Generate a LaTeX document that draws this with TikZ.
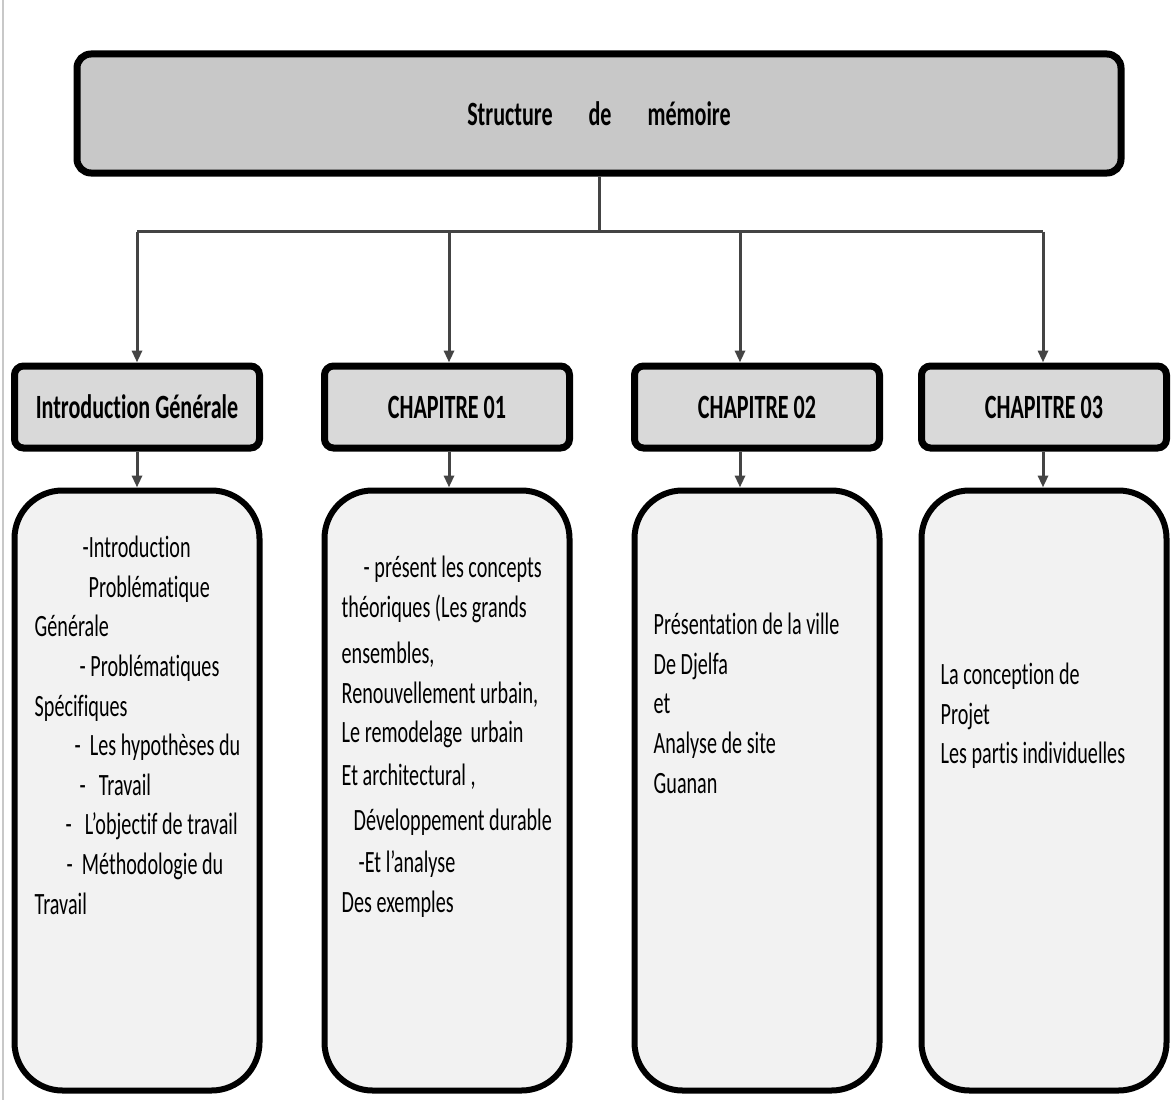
\documentclass[tikz,border=0pt]{standalone}
\usepackage{fontspec}
\setmainfont{Carlito}
\newfontfamily\diagfont[FakeStretch=0.65,Ligatures=NoCommon]{Carlito}
\usetikzlibrary{arrows.meta,positioning,calc}
\definecolor{titlegray}{HTML}{C8C8C8}
\definecolor{chapgray}{HTML}{D9D9D9}
\definecolor{listgray}{HTML}{F2F2F2}
\definecolor{linkgray}{HTML}{444444}
\definecolor{edgegray}{HTML}{C8C8C8}

\begin{document}
\begin{tikzpicture}[x=1pt, y=1pt,
  font=\diagfont, >={Triangle[width=10pt,length=12pt]},
  box/.style={draw=black, line width=7pt, inner sep=0pt},
  titlebox/.style={box, fill=titlegray, rounded corners=14pt, minimum width=1044pt, minimum height=119pt, font=\diagfont\bfseries\fontsize{34}{40}\selectfont},
  chapbox/.style={box, fill=chapgray, rounded corners=9pt, minimum width=245pt, minimum height=82pt, font=\diagfont\bfseries\fontsize{34}{40}\selectfont},
  listbox/.style={box, line width=6pt, fill=listgray, rounded corners=48pt, minimum width=245pt, minimum height=600pt},
  listtext/.style={anchor=north west, align=left, inner sep=0pt, font=\diagfont\fontsize{31}{39.6}\selectfont},
  link/.style={draw=linkgray, line width=3pt}]
  \useasboundingbox (0,0) rectangle (1175,-1113);
  \draw[edgegray, line width=1.5pt] (3,0) -- (3,-1100);
  % title and chapters
  \node[titlebox] (title) at (599,-113.5) {Structure\hspace{36pt}de\hspace{36pt}mémoire};
  \node[chapbox] (intro) at (137,-407) {Introduction Générale};
  \node[chapbox, right=58pt of intro] (ch1) {CHAPITRE 01};
  \node[chapbox, right=58pt of ch1] (ch2) {CHAPITRE 02};
  \node[chapbox, right=35pt of ch2] (ch3) {CHAPITRE 03};
  \foreach \c in {intro,ch1,ch2,ch3}
    \node[listbox, below=36pt of \c] (\c-list) {};
  % contents
  \node[listtext] (intro-text) at ([xshift=23pt,yshift=-48.5pt]intro-list.north west) {%
    \hspace*{48pt}-Introduction\\
    \hspace*{54pt}Problématique\\
    Générale\\
    \hspace*{45pt}- Problématiques\\
    Spécifiques\\
    \hspace*{40pt}-\hspace{9pt}Les hypothèses du\\
    \hspace*{45pt}-\hspace{13pt}Travail\\
    \hspace*{31pt}-\hspace{13pt}L’objectif de travail\\
    \hspace*{32pt}-\hspace{9pt}Méthodologie du\\
    Travail};
  \node[listtext] (ch1-text) at ([xshift=20pt,yshift=-68.5pt]ch1-list.north west) {%
    \hspace*{22pt}- présent les concepts\\
    théoriques (Les grands\\[6.5pt]
    ensembles,\\
    Renouvellement urbain,\\
    Le remodelage\hspace{8pt}urbain\\[3.5pt]
    Et architectural ,\\[5.5pt]
    \hspace*{12pt}Développement durable\\[2.5pt]
    \hspace*{17pt}-Et l’analyse\\
    Des exemples};
  \node[listtext] (ch2-text) at ([xshift=22pt,yshift=-125.5pt]ch2-list.north west) {%
    Présentation de la ville\\
    De Djelfa\\
    et\\
    Analyse de site\\
    Guanan};
  \node[listtext] (ch3-text) at ([xshift=22pt,yshift=-175.5pt]ch3-list.north west) {%
    La conception de\\
    Projet\\
    Les partis individuelles};
  % connectors
  \coordinate[below=55pt of title] (hub);
  \draw[link] (title) -- (hub);
  \draw[link] (hub -| intro) -- ($(hub -| ch3)+(-1,0)$);
  \foreach \c/\s in {intro/0,ch1/2,ch2/-17,ch3/-1} {
    \draw[link,->] ($(hub -| \c)+(\s,0)$) -- ($(\c.north)+(\s,0)$);
    \draw[link,->] ($(\c.south)+(\s,0)$) -- ($(\c-list.north)+(\s,0)$);
  }
\end{tikzpicture}
\end{document}
